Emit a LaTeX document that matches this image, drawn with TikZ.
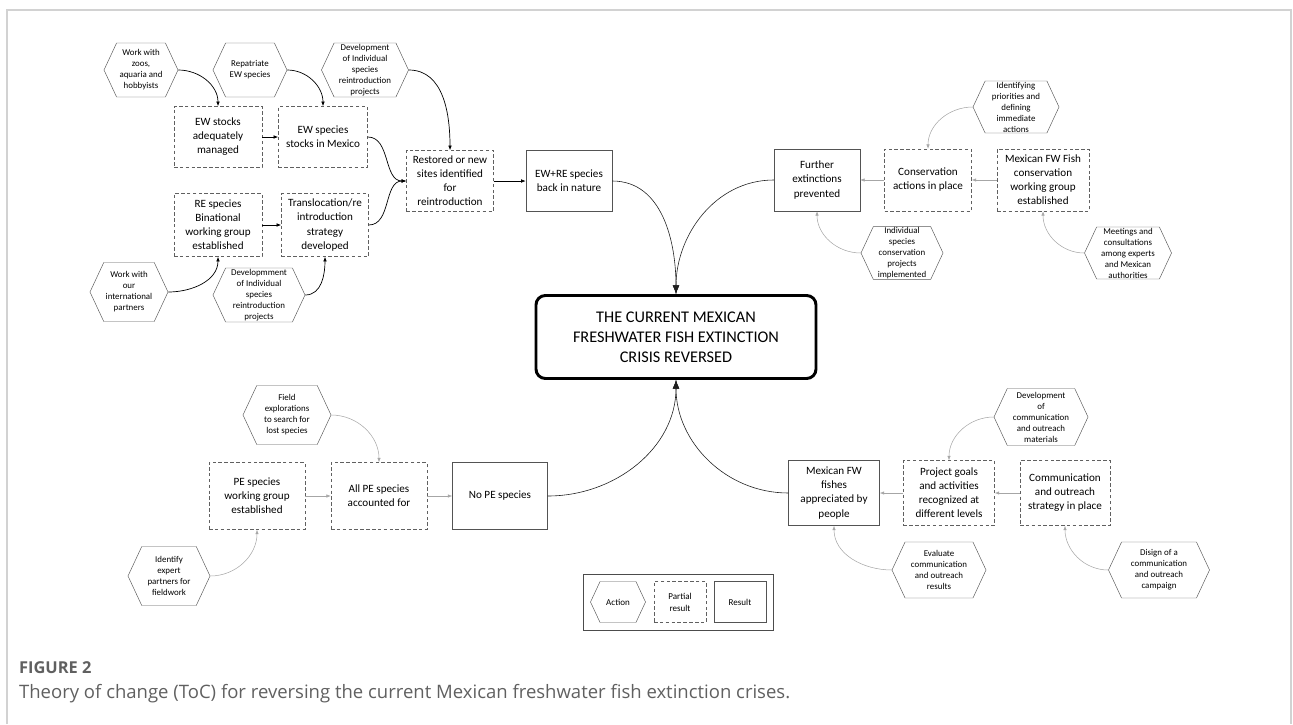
\documentclass[tikz,border=0pt]{standalone}
\usepackage{fontspec}
\setmainfont{Carlito}
\newfontfamily\capfont{Open Sans}
\usetikzlibrary{arrows.meta, positioning, fit, shapes.symbols}

\begin{document}
\begin{tikzpicture}[
  x=0.03cm, y=-0.03cm,
  part/.style={rectangle, draw=gray!75!black, densely dashed, fill=white, minimum width=2.61cm, minimum height=1.83cm, align=center, inner sep=1pt, font=\fontsize{9.5}{12}\selectfont},
  result/.style={rectangle, draw=gray!65!black, fill=white, minimum width=2.61cm, minimum height=1.83cm, align=center, inner sep=1pt, font=\fontsize{9.5}{12}\selectfont},
  action/.style={signal, signal to=east and west, signal pointer angle=130, draw=gray!70!black, fill=white, minimum width=2.22cm, minimum height=1.62cm, align=center, inner sep=0.5pt, font=\fontsize{7.6}{9.4}\selectfont},
  goal/.style={rectangle, draw=black, line width=2.5pt, rounded corners=8pt, fill=white, minimum width=8.40cm, minimum height=2.49cm, align=center, font=\fontsize{13.9}{17}\selectfont},
  arrow/.style={-{Latex[length=1.4mm, width=1.1mm]}, black, line width=0.6pt},
  link/.style={-{Latex[length=1.3mm, width=1mm]}, gray!70, line width=0.45pt},
  mainlink/.style={-{Latex[length=2.6mm, width=2mm]}, gray!25!black, line width=0.5pt},
  legendbox/.style={draw=gray!60!black, inner sep=0.22cm},
  legend/.style={font=\fontsize{7.7}{10.2}\selectfont}
]
\useasboundingbox (0,0) rectangle (1293,724);
\draw[gray!35, line width=1.2pt] (7,724) -- (7,10) -- (1291,10) -- (1291,724);

\node[goal] (goal) at (676,337) {THE CURRENT MEXICAN\\FRESHWATER FISH EXTINCTION\\CRISIS REVERSED};

\node[action] (zoos) at (141,70) {Work with\\zoos,\\aquaria and\\hobbyists};
\node[action] (repat) at (250,70) {Repatriate\\EW species};
\node[action, minimum width=2.61cm] (devA) at (365,70) {Development\\of Individual\\species\\reintroduction\\projects};
\node[part, minimum width=2.64cm] (managed) at (218,137) {EW stocks\\adequately\\managed};
\node[part, minimum width=2.67cm] (mexstock) at (323,137) {EW species\\stocks in Mexico};
\node[part, minimum width=2.64cm, minimum height=1.89cm] (binat) at (218,225) {RE species\\Binational\\working group\\established};
\node[part, minimum height=1.89cm] (transloc) at (325,225) {Translocation/re\\introduction\\strategy\\developed};
\node[action, minimum width=2.34cm, minimum height=1.77cm] (partners) at (129,292) {Work with\\our\\international\\partners};
\node[action, minimum width=2.76cm] (devB) at (259,295) {Developmment\\of Individual\\species\\reintroduction\\projects};
\node[part] (sites) at (450,181) {Restored or new\\sites identified\\for\\reintroduction};
\node[result, minimum width=2.58cm] (nature) at (569,181) {EW+RE species\\back in nature};

\draw[arrow] (managed.east) -- (mexstock.west);
\draw[arrow] (binat.east) -- (transloc.west);
\draw[arrow] (zoos.east) to[out=0, in=90] (managed.north);
\draw[arrow] (repat.east) to[out=0, in=90] (mexstock.north);
\draw[arrow] (devA.east) to[out=0, in=90] (sites.north);
\draw[arrow] (partners.east) to[out=0, in=-90] (binat.south);
\draw[arrow] (devB.east) to[out=0, in=-90] (transloc.south);
\draw[arrow] (mexstock.east) to[out=0, in=180] (sites.west);
\draw[arrow] (transloc.east) to[out=0, in=180] (sites.west);
\draw[arrow] (sites.east) -- (nature.west);

\node[result, minimum width=2.58cm, minimum height=1.86cm] (further) at (817,180) {Further\\extinctions\\prevented};
\node[part, minimum height=1.86cm] (consact) at (928,180) {Conservation\\actions in place};
\node[part, minimum width=2.76cm, minimum height=1.86cm] (workgrp) at (1043,180) {Mexican FW Fish\\conservation\\working group\\established};
\node[action, minimum width=2.58cm, minimum height=1.56cm] (priorities) at (1016,107) {Identifying\\priorities and\\defining\\immediate\\actions};
\node[action, minimum width=2.46cm, minimum height=1.56cm] (indiv) at (902,253) {Individual\\species\\conservation\\projects\\implemented};
\node[action, minimum width=2.61cm, minimum height=1.56cm] (meetings) at (1128,253) {Meetings and\\consultations\\among experts\\and Mexican\\authorities};

\draw[link] (consact.west) -- (further.east);
\draw[link] (workgrp.west) -- (consact.east);
\draw[link] (priorities.west) to[out=180, in=90] (consact.north);
\draw[link] (indiv.west) to[out=180, in=-90] (further.south);
\draw[link] (meetings.west) to[out=180, in=-90] (workgrp.south);

\node[action, minimum width=2.64cm, minimum height=1.77cm] (explore) at (287,415) {Field\\explorations\\to search for\\lost species};
\node[part, minimum width=2.88cm, minimum height=2.01cm] (pegroup) at (257,496) {PE species\\working group\\established};
\node[part, minimum width=2.88cm, minimum height=2.01cm] (allpe) at (379,496) {All PE species\\accounted for};
\node[result, minimum width=2.85cm, minimum height=2.01cm] (nope) at (500,496) {No PE species};
\node[action, minimum width=2.46cm, minimum height=1.77cm] (experts) at (169,576) {Identify\\expert\\partners for\\fieldwork};

\draw[link] (pegroup.east) -- (allpe.west);
\draw[link] (allpe.east) -- (nope.west);
\draw[link] (explore.east) to[out=0, in=90] (allpe.north);
\draw[link] (experts.east) to[out=0, in=-90] (pegroup.south);

\node[result, minimum width=2.73cm, minimum height=1.95cm] (appreciated) at (834,493) {Mexican FW\\fishes\\appreciated by\\people};
\node[part, minimum width=2.73cm, minimum height=1.95cm] (recognized) at (949,493) {Project goals\\and activities\\recognized at\\different levels};
\node[part, minimum width=2.70cm, minimum height=1.95cm] (strategy) at (1065,493) {Communication\\and outreach\\strategy in place};
\node[action, minimum width=2.82cm, minimum height=1.71cm] (materials) at (1041,417) {Development\\of\\communication\\and outreach\\materials};
\node[action, minimum width=2.82cm, minimum height=1.68cm] (evaluate) at (939,570) {Evaluate\\communication\\and outreach\\results};
\node[action, minimum width=3.03cm, minimum height=1.68cm] (campaign) at (1159,570) {Disign of a\\communication\\and outreach\\campaign};

\draw[link] (recognized.west) -- (appreciated.east);
\draw[link] (strategy.west) -- (recognized.east);
\draw[link] (materials.west) to[out=180, in=90] (recognized.north);
\draw[link] (evaluate.west) to[out=180, in=-90] (appreciated.south);
\draw[link] (campaign.west) to[out=180, in=-90] (strategy.south);

\draw[mainlink] (nature.east) to[out=0, in=90] (goal.north);
\draw[mainlink] (further.west) to[out=180, in=90] (goal.north);
\draw[mainlink] (nope.east) to[out=0, in=-90] (goal.south);
\draw[mainlink] (appreciated.west) to[out=180, in=-90] (goal.south);

\node[action, legend, minimum width=1.65cm, minimum height=1.23cm] (lgaction) at (618,602) {Action};
\node[part, legend, minimum width=1.56cm, minimum height=1.23cm] (lgpart) at (680,602) {Partial\\result};
\node[result, legend, minimum width=1.56cm, minimum height=1.23cm] (lgresult) at (740,602) {Result};
\node[legendbox, fit=(lgaction)(lgpart)(lgresult)] (legendframe) {};

\node[anchor=west, font=\capfont\bfseries\fontsize{14}{16}\selectfont, text=gray!75!black] (figlabel) at (15,668) {FIGURE 2};
\node[anchor=west, font=\capfont\fontsize{15.8}{18}\selectfont, text=gray!75!black] (caption) at (15,694) {Theory of change (ToC) for reversing the current Mexican freshwater fish extinction crises.};
\end{tikzpicture}
\end{document}
